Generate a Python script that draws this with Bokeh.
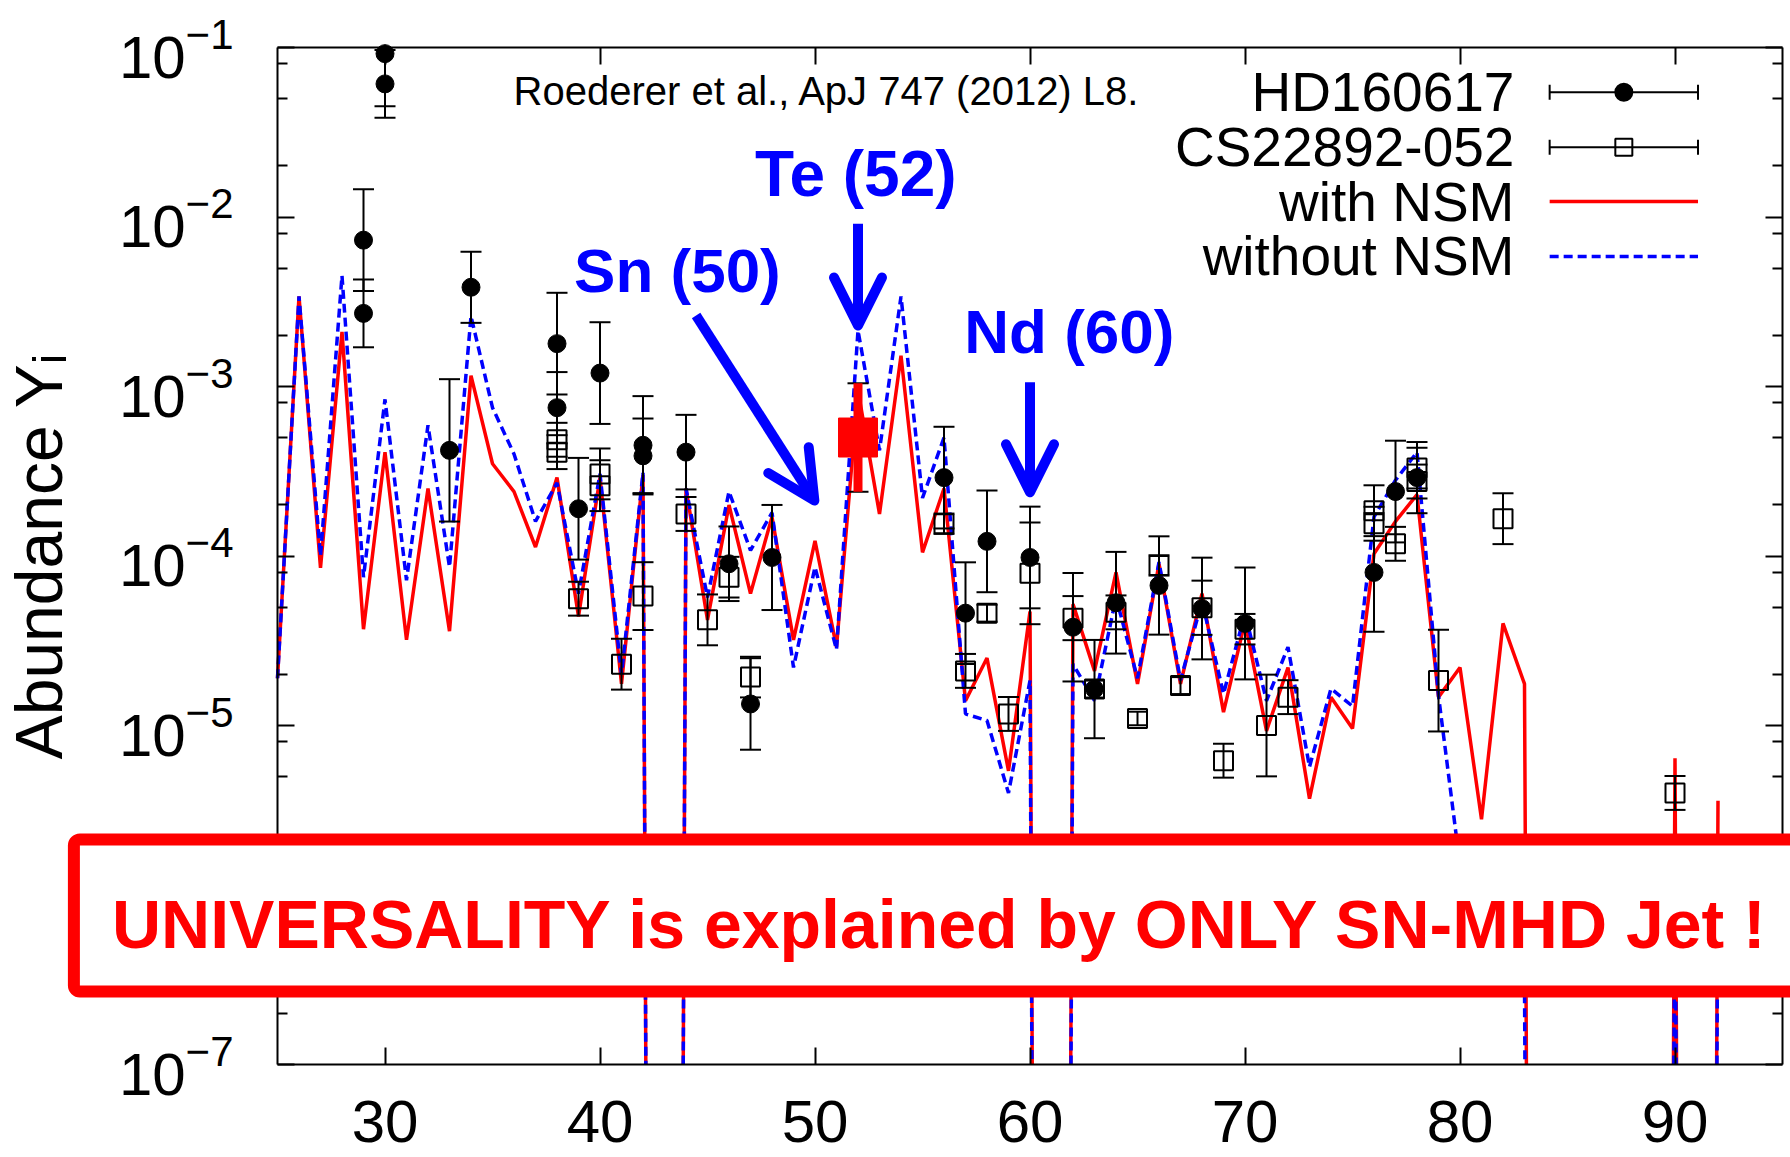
import math
from bokeh.plotting import figure
from bokeh.models import (FixedTicker, LogAxis, LinearAxis, Label, BoxAnnotation,
                          Arrow, OpenHead, ColumnDataSource, Range1d)
from bokeh.embed import file_html
from bokeh.resources import INLINE

# ---------------------------------------------------------------- data
# Elements without stable isotopes get a vanishing abundance.
TINY = 1e-30

Z_MODEL = list(range(25, 93))

with_nsm = [
    1.9e-5, 3.4e-3, 8.5e-5, 2.1e-3, 3.7e-5, 4.1e-4, 3.2e-5, 2.5e-4, 3.6e-5, 1.16e-3,   # 25-34
    3.5e-4, 2.4e-4, 1.13e-4, 2.9e-4, 4.4e-5, 2.9e-4, 1.76e-5, 3.0e-4, TINY, 2.5e-4,    # 35-44
    4.2e-5, 2.0e-4, 6.0e-5, 1.7e-4, 3.2e-5, 1.23e-4, 2.9e-5, 9.5e-4, 1.77e-4, 1.52e-3, # 45-54
    1.05e-4, 2.5e-4, 1.4e-5, 2.5e-5, 5.4e-6, 4.7e-5, TINY, 5.2e-5, 2.1e-5, 8.0e-5,     # 55-64
    1.76e-5, 9.0e-5, 1.76e-5, 6.0e-5, 1.2e-5, 4.1e-5, 9.3e-6, 2.2e-5, 3.7e-6, 1.47e-5, # 65-74
    9.6e-6, 1.03e-4, 1.6e-4, 2.3e-4, 1.47e-5, 2.2e-5, 2.8e-6, 4.0e-5, 1.76e-5, TINY,   # 75-84
    TINY, TINY, TINY, TINY, TINY, 6.4e-6, TINY, 3.6e-6,                                 # 85-92
]

without_nsm = [
    1.9e-5, 3.4e-3, 1.0e-4, 4.5e-3, 7.5e-5, 8.4e-4, 7.2e-5, 5.9e-4, 8.6e-5, 2.6e-3,    # 25-34
    7.5e-4, 4.0e-4, 1.6e-4, 2.7e-4, 6.0e-5, 3.05e-4, 2.0e-5, 3.1e-4, TINY, 2.5e-4,     # 35-44
    5.7e-5, 2.4e-4, 1.08e-4, 1.8e-4, 2.2e-5, 8.6e-5, 2.8e-5, 2.14e-3, 4.2e-4, 3.4e-3,  # 45-54
    2.2e-4, 5.0e-4, 1.17e-5, 1.07e-5, 4.0e-6, 1.84e-5, TINY, 2.3e-5, 1.4e-5, 5.7e-5,   # 55-64
    1.9e-5, 9.2e-5, 1.85e-5, 5.4e-5, 1.54e-5, 4.6e-5, 1.4e-5, 2.9e-5, 5.7e-6, 1.65e-5, # 65-74
    1.3e-5, 1.7e-4, 2.8e-4, 4.1e-4, 1.5e-5, 1.5e-6, 8.0e-7, 5.0e-7, 3.0e-7, TINY,      # 75-84
    TINY, TINY, TINY, TINY, TINY, 2.0e-6, TINY, 1.5e-6,                                 # 85-92
]

# HD160617 (filled circles): Z, abundance, error in dex
hd_z = [29, 29, 30, 30, 33, 34, 38, 38, 39, 40, 42, 42, 44, 46, 47, 48, 56, 57, 58, 60,
        62, 63, 64, 66, 68, 70, 76, 77, 78]
hd_y = [7.3e-3, 2.7e-3, 9.2e-2, 6.1e-2, 4.2e-4, 3.85e-3, 1.79e-3, 7.5e-4, 1.9e-4, 1.2e-3,
        4.5e-4, 3.9e-4, 4.1e-4, 9.0e-5, 1.34e-5, 9.8e-5, 2.9e-4, 4.6e-5, 1.22e-4, 9.8e-5,
        3.8e-5, 1.64e-5, 5.3e-5, 6.7e-5, 4.9e-5, 4.0e-5, 8.0e-5, 2.4e-4, 2.9e-4]
hd_err = [0.30, 0.20, 0.31, 0.20, 0.42, 0.21, 0.30, 0.21, 0.30, 0.30,
          0.29, 0.22, 0.22, 0.22, 0.27, 0.31, 0.30, 0.30, 0.30, 0.30,
          0.32, 0.29, 0.30, 0.29, 0.30, 0.33, 0.35, 0.30, 0.21]

# CS22892-052 (open squares)
cs_z = [38, 38, 39, 40, 40, 41, 42, 44, 45, 46, 47, 56, 57, 58, 59, 60, 62, 63, 64, 65,
        66, 67, 68, 69, 70, 71, 72, 76, 76, 77, 78, 78, 79, 82, 90]
cs_y = [4.85e-4, 4.1e-4, 5.6e-5, 3.05e-4, 2.6e-4, 2.3e-5, 5.8e-5, 1.77e-4, 4.2e-5, 7.5e-5,
        1.93e-5, 1.55e-4, 2.1e-5, 4.6e-5, 1.17e-5, 7.9e-5, 4.3e-5, 1.64e-5, 4.65e-5, 1.1e-5,
        8.8e-5, 1.72e-5, 4.95e-5, 6.2e-6, 3.7e-5, 1.0e-5, 1.47e-5, 1.85e-4, 1.55e-4, 1.18e-4,
        3.3e-4, 2.75e-4, 1.84e-5, 1.66e-4, 4.0e-6]
cs_err = [0.10, 0.10, 0.10, 0.15, 0.15, 0.15, 0.20, 0.10, 0.15, 0.12,
          0.12, 0.06, 0.10, 0.05, 0.10, 0.30, 0.13, 0.05, 0.10, 0.04,
          0.06, 0.05, 0.16, 0.10, 0.09, 0.30, 0.10, 0.15, 0.10, 0.10,
          0.12, 0.10, 0.30, 0.15, 0.10]

# Te measurement (highlighted)
te_z = [52]
te_y = [5.0e-4]
te_err = [0.32]

X_TICKS = [30, 40, 50, 60, 70, 80, 90]
Y_TICKS = [10.0 ** k for k in range(-7, 0)]
Y_MINOR = [m * 10.0 ** k for k in range(-7, -1) for m in (2, 5, 8)]

SERIES_NAMES = ["HD160617", "CS22892-052", "with NSM", "without NSM"]

# plotting window
Z_LO, Z_HI = 25, 95
Y_LO, Y_HI = 1e-7, 1e-1


def clip_below(z, y, floor):
    """Cut a polyline where it drops below `floor` (log interpolation), leaving gaps."""
    lf = math.log10(floor)
    out_z, out_y = [], []
    for i in range(len(z)):
        inside = y[i] >= floor
        if i > 0:
            was_inside = y[i - 1] >= floor
            if inside != was_inside:
                l0, l1 = math.log10(y[i - 1]), math.log10(y[i])
                t = (lf - l0) / (l1 - l0)
                out_z.append(z[i - 1] + t * (z[i] - z[i - 1]))
                out_y.append(floor)
                if not inside:
                    out_z.append(float("nan"))
                    out_y.append(float("nan"))
        if inside:
            out_z.append(z[i])
            out_y.append(y[i])
    return out_z, out_y


def bars(z, y, err):
    lo = [max(v * 10 ** (-e), Y_LO) for v, e in zip(y, err)]
    hi_raw = [v * 10 ** e for v, e in zip(y, err)]
    hi = [min(h, Y_HI) for h in hi_raw]
    cap_hi = [h if h < Y_HI else float("nan") for h in hi_raw]
    return ColumnDataSource(dict(z=z, y=y, lo=lo, hi=hi, cap_hi=cap_hi))


# ---------------------------------------------------------------- figure
FONT = "Liberation Sans"

# The drawing area fills the whole canvas so the banner can run out under the
# tick labels; the four axes are pinned to the edges of the plotting window.
PX_PER_Z = 21.5
PX_PER_DEC = 169.5
LEFT_PX, RIGHT_PX, TOP_PX, BOTTOM_PX = 277, 8, 47, 93

x_range = Range1d(Z_LO - LEFT_PX / PX_PER_Z, Z_HI + RIGHT_PX / PX_PER_Z)
y_range = Range1d(10 ** (math.log10(Y_LO) - BOTTOM_PX / PX_PER_DEC),
                  10 ** (math.log10(Y_HI) + TOP_PX / PX_PER_DEC))

p = figure(width=1790, height=1157, x_range=x_range, y_range=y_range,
           y_axis_type="log", output_backend="svg", toolbar_location=None,
           min_border=0)
p.title.visible = False
p.background_fill_color = "white"
p.border_fill_color = "white"
p.outline_line_color = None
p.grid.visible = False

xt = FixedTicker(ticks=X_TICKS, minor_ticks=[])
yt = FixedTicker(ticks=Y_TICKS, minor_ticks=Y_MINOR)

xax = p.xaxis[0]
yax = p.yaxis[0]
xax.ticker = xt
xax.bounds = (Z_LO, Z_HI)
xax.fixed_location = Y_LO
yax.ticker = yt
yax.bounds = (Y_LO, Y_HI)
yax.fixed_location = Z_LO
yax.major_label_overrides = {1e-6: ""}

for ax in (xax, yax):
    ax.axis_line_width = 2
    ax.major_tick_line_width = 2
    ax.minor_tick_line_width = 2
    ax.major_tick_in = 17
    ax.major_tick_out = 0
    ax.minor_tick_in = 10
    ax.minor_tick_out = 0
    ax.major_label_text_font = FONT
    ax.major_label_text_color = "black"

xax.major_label_text_font_size = "60px"
xax.major_label_standoff = 36
yax.major_label_text_font_size = "60px"
yax.major_label_standoff = 44

yax.axis_label = "Abundance Yᵢ"
yax.axis_label_text_font = FONT
yax.axis_label_text_font_size = "66px"
yax.axis_label_text_font_style = "normal"
yax.axis_label_text_color = "black"
yax.axis_label_standoff = 40

# mirrored tick marks on the top and right edges, without labels
right = LogAxis(ticker=yt, fixed_location=Z_HI, bounds=(Y_LO, Y_HI),
                major_label_overrides={t: "" for t in Y_TICKS},
                major_label_text_font_size="4px", major_label_standoff=0,
                axis_line_width=2, major_tick_line_width=2, minor_tick_line_width=2,
                major_tick_in=17, major_tick_out=0, minor_tick_in=10, minor_tick_out=0)
p.add_layout(right, "right")
top = LinearAxis(ticker=xt, fixed_location=Y_HI, bounds=(Z_LO, Z_HI),
                 major_label_overrides={t: "" for t in X_TICKS},
                 major_label_text_font_size="4px", major_label_standoff=0,
                 axis_line_width=2, major_tick_line_width=2,
                 major_tick_in=17, major_tick_out=0)
p.add_layout(top, "above")

# ---------------------------------------------------------------- model curves
wz, wy = clip_below(Z_MODEL, with_nsm, Y_LO)
oz, oy = clip_below(Z_MODEL, without_nsm, Y_LO)
p.line(wz, wy, line_color="red", line_width=3.5)
p.line(oz, oy, line_color="blue", line_width=3.5, line_dash="9 5")

# ---------------------------------------------------------------- observations
hd = bars(hd_z, hd_y, hd_err)
cs = bars(cs_z, cs_y, cs_err)
te = bars(te_z, te_y, te_err)

for src in (hd, cs, te):
    p.segment(x0="z", y0="lo", x1="z", y1="hi", source=src, line_color="black", line_width=2)
    p.scatter("z", "lo", source=src, marker="dash", size=21, line_color="black", line_width=2)
    p.scatter("z", "cap_hi", source=src, marker="dash", size=21, line_color="black",
              line_width=2)

p.scatter("z", "y", source=hd, marker="circle", size=18, fill_color="black", line_color="black")
p.scatter("z", "y", source=cs, marker="square", size=19, fill_alpha=0,
          line_color="black", line_width=2)

p.segment(x0="z", y0="lo", x1="z", y1="hi", source=te, line_color="red", line_width=9)
p.scatter("z", "y", source=te, marker="square", size=39, fill_color="red", line_color="red")

# ---------------------------------------------------------------- legend
LEG_TEXT_X = 82.53
LEG_X0, LEG_X1 = 84.17, 91.07
LEG_XC = (LEG_X0 + LEG_X1) / 2
LEG_ROW_Y = [10 ** -1.264, 10 ** -1.588, 10 ** -1.909, 10 ** -2.233]

for name, yr in zip(SERIES_NAMES, LEG_ROW_Y):
    p.add_layout(Label(x=LEG_TEXT_X, y=yr, text=name, text_align="right",
                       text_baseline="middle", text_font=FONT,
                       text_font_size="55px", text_color="black"))

for yr, marker, fill in ((LEG_ROW_Y[0], "circle", 1.0), (LEG_ROW_Y[1], "square", 0.0)):
    p.segment(x0=[LEG_X0], y0=[yr], x1=[LEG_X1], y1=[yr], line_color="black", line_width=2)
    p.scatter([LEG_X0, LEG_X1], [yr, yr], marker="dash", angle=math.pi / 2, size=15,
              line_color="black", line_width=2)
    p.scatter([LEG_XC], [yr], marker=marker, size=17, fill_color="black",
              fill_alpha=fill, line_color="black", line_width=2)

p.segment(x0=[LEG_X0], y0=[LEG_ROW_Y[2]], x1=[LEG_X1], y1=[LEG_ROW_Y[2]],
          line_color="red", line_width=3.5)
p.segment(x0=[LEG_X0], y0=[LEG_ROW_Y[3]], x1=[LEG_X1], y1=[LEG_ROW_Y[3]],
          line_color="blue", line_width=3.5, line_dash="9 5")

# ---------------------------------------------------------------- annotations
p.add_layout(Label(x=35.98, y=10 ** -1.254, text="Roederer et al., ApJ 747 (2012) L8.",
                   text_font=FONT, text_font_size="40px", text_color="black",
                   text_baseline="middle"))

for txt, zx, yc, fs in (("Te (52)", 51.9, 10 ** -1.749, "64px"),
                        ("Sn (50)", 43.6, 10 ** -2.316, "62px"),
                        ("Nd (60)", 61.83, 10 ** -2.676, "62px")):
    p.add_layout(Label(x=zx, y=yc, text=txt, text_align="center", text_baseline="middle",
                       text_font=FONT, text_font_style="bold", text_font_size=fs,
                       text_color="blue"))


def arrow(x0, y0, x1, y1):
    head = OpenHead(size=48, line_color="blue", line_width=10, line_cap="round",
                    line_join="round")
    p.add_layout(Arrow(end=head, x_start=x0, y_start=y0, x_end=x1, y_end=y1,
                       line_color="blue", line_width=10))


arrow(52.0, 10 ** -2.04, 52.0, 10 ** -2.64)
arrow(44.47, 10 ** -2.581, 49.97, 10 ** -3.673)
arrow(60.0, 10 ** -2.975, 60.0, 10 ** -3.624)

# ---------------------------------------------------------------- banner
banner = BoxAnnotation(left=15.53, right=120, top=10 ** -5.673, bottom=10 ** -6.569,
                       fill_color="white", fill_alpha=1.0, line_color="red",
                       line_alpha=1.0, line_width=12, border_radius=6, level="overlay")
p.add_layout(banner)
p.add_layout(Label(x=17.30, y=10 ** -6.174,
                   text="UNIVERSALITY is explained by ONLY SN-MHD Jet !",
                   text_font=FONT, text_font_style="bold", text_font_size="68px",
                   text_color="red", text_baseline="middle", level="overlay"))

open("out.html", "w").write(file_html(p, INLINE))
